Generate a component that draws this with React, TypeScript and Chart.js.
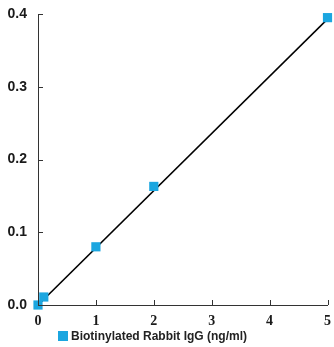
import React, { useEffect, useRef } from "react";
import { Chart, registerables } from "chart.js";

Chart.register(...registerables);

const concentrations = [0, 0.1, 1, 2, 5];
const absorbance = [0.0, 0.011, 0.08, 0.163, 0.395];
const fitX = [0, 5];
const fitY = [0.0, 0.393];
const xTicks = [0, 1, 2, 3, 4, 5];
const yTicks = [0, 0.1, 0.2, 0.3, 0.4];
const seriesLabel = "Biotinylated Rabbit IgG (ng/ml)";

const BLUE = "#1ba6e0";
const AXIS = "#333333";

const inwardTicks = {
  id: "inwardTicks",
  afterDraw(chart: any) {
    const { ctx, scales } = chart;
    const xs = scales.x;
    const ys = scales.y;
    ctx.save();
    ctx.strokeStyle = AXIS;
    ctx.lineWidth = 1;
    ctx.beginPath();
    for (const t of xTicks) {
      const px = Math.round(xs.getPixelForValue(t)) + 0.5;
      ctx.moveTo(px, ys.bottom);
      ctx.lineTo(px, ys.bottom - 5);
    }
    for (const t of yTicks) {
      const py = Math.round(ys.getPixelForValue(t)) + 0.5;
      ctx.moveTo(xs.left, py);
      ctx.lineTo(xs.left + 5, py);
    }
    ctx.stroke();
    ctx.restore();
  },
};

export default function App() {
  const ref = useRef<HTMLCanvasElement | null>(null);

  useEffect(() => {
    if (!ref.current) return;
    const chart = new Chart(ref.current, {
      type: "scatter",
      data: {
        datasets: [
          {
            type: "scatter",
            label: seriesLabel,
            data: concentrations.map((x, i) => ({ x, y: absorbance[i] })),
            backgroundColor: BLUE,
            borderColor: BLUE,
            borderWidth: 0,
            pointStyle: "rect",
            pointRadius: 6.5,
            clip: false as any,
            order: 0,
          },
          {
            type: "line",
            label: "fit",
            data: fitX.map((x, i) => ({ x, y: fitY[i] })),
            borderColor: "#000000",
            borderWidth: 1.6,
            pointRadius: 0,
            fill: false,
            order: 1,
          },
        ],
      },
      options: {
        animation: false,
        responsive: false,
        maintainAspectRatio: false,
        layout: { padding: { top: 14, right: 4, bottom: 0, left: 0 } },
        plugins: {
          legend: { display: false },
          tooltip: { enabled: false },
        },
        scales: {
          x: {
            type: "linear",
            min: 0,
            max: 5,
            afterFit: (s: any) => {
              s.height = 42;
            },
            afterBuildTicks: (s: any) => {
              s.ticks = xTicks.map((v) => ({ value: v }));
            },
            grid: { display: false },
            border: { display: true, color: AXIS, width: 1 },
            ticks: {
              padding: 0,
              color: "#1a1a1a",
              font: { family: "'Liberation Serif', serif", size: 14, weight: "bold" },
              callback: (v: any) => String(v),
            },
          },
          y: {
            type: "linear",
            min: 0,
            max: 0.4,
            afterFit: (s: any) => {
              s.width = 38;
            },
            afterBuildTicks: (s: any) => {
              s.ticks = yTicks.map((v) => ({ value: v }));
            },
            grid: { display: false },
            border: { display: true, color: AXIS, width: 1 },
            ticks: {
              padding: 3,
              color: "#1a1a1a",
              font: { family: "'Liberation Sans', sans-serif", size: 14, weight: "bold" },
              callback: (v: any) => Number(v).toFixed(1),
            },
          },
        },
      },
      plugins: [inwardTicks],
    });
    return () => chart.destroy();
  }, []);

  return (
    <div style={{ position: "absolute", left: 0, top: 0, width: 334, height: 347 }}>
      <canvas ref={ref} width={334} height={347} style={{ display: "block" }} />
      <div
        style={{
          position: "absolute",
          left: 58,
          top: 330,
          display: "flex",
          alignItems: "center",
          fontFamily: "'Liberation Sans', sans-serif",
          fontWeight: "bold",
          fontSize: 12,
          color: "#222",
          whiteSpace: "nowrap",
          lineHeight: "12px",
        }}
      >
        <span
          style={{
            display: "inline-block",
            width: 10,
            height: 10,
            background: BLUE,
            marginRight: 3,
          }}
        />
        <span>{seriesLabel}</span>
      </div>
    </div>
  );
}
